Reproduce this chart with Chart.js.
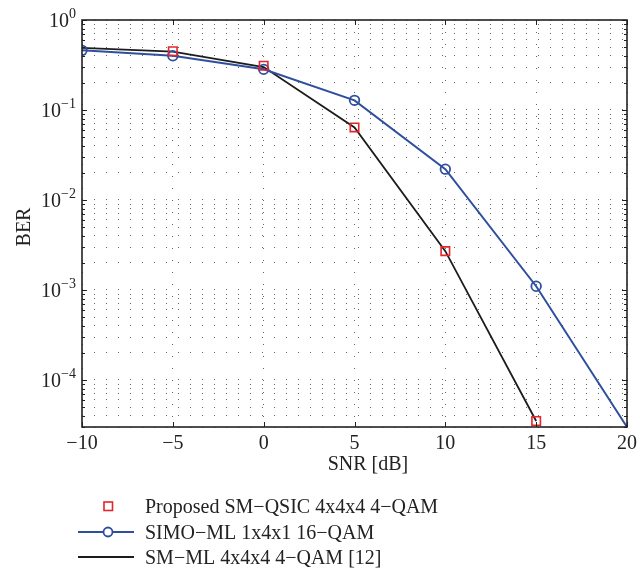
<!DOCTYPE html>
<html>
<head>
<meta charset="utf-8">
<script src="https://cdn.jsdelivr.net/npm/chart.js@4.4.0/dist/chart.umd.min.js"></script>
<style>
  html, body { margin: 0; padding: 0; background: #fff; }
  #wrap { width: 640px; height: 573px; }
</style>
</head>
<body>
<div id="wrap"><canvas id="chart"></canvas></div>
<script>
const snr = [-10, -5, 0, 5, 10, 15, 20]
const proposedBer = [null, 0.45, 0.31, 0.064, 0.0027, 0.000035, null]
const simoBer = [0.46, 0.40, 0.283, 0.128, 0.022, 0.0011, 0.00003]
const smmlBer = [0.49, 0.445, 0.30, 0.064, 0.0027, 0.000035, null]

const xTicks = [-10, -5, 0, 5, 10, 15, 20]
const xTickLabels = ["−10", "−5", "0", "5", "10", "15", "20"]
const yGrid = [
  0.00003, 0.00004, 0.00005, 0.00006, 0.00007, 0.00008, 0.00009,
  0.0001, 0.0002, 0.0003, 0.0004, 0.0005, 0.0006, 0.0007, 0.0008, 0.0009,
  0.001, 0.002, 0.003, 0.004, 0.005, 0.006, 0.007, 0.008, 0.009,
  0.01, 0.02, 0.03, 0.04, 0.05, 0.06, 0.07, 0.08, 0.09,
  0.1, 0.2, 0.3, 0.4, 0.5, 0.6, 0.7, 0.8, 0.9, 1,
]
const yDecades = [0.0001, 0.001, 0.01, 0.1, 1]
const yExponents = ["−4", "−3", "−2", "−1", "0"]
const legendNames = [
  "Proposed SM−QSIC 4x4x4 4−QAM",
  "SIMO−ML 1x4x1 16−QAM",
  "SM−ML 4x4x4 4−QAM [12]",
]

const RED = "#e3262b"
const BLUE = "#2f4f9e"
const BLACK = "#1c1c1c"
const SERIF = "'Liberation Serif', 'DejaVu Serif', serif"

function toPoints(values) {
  return snr.map((x, i) => ({ x: x, y: values[i] }))
}

const decorations = {
  id: "decorations",
  afterDraw(chart) {
    const ctx = chart.ctx
    const a = chart.chartArea
    const xs = chart.scales.x
    const ys = chart.scales.y
    ctx.save()

    // inside ticks
    ctx.strokeStyle = "#222"
    ctx.lineWidth = 1
    ctx.beginPath()
    xTicks.forEach((v) => {
      const px = Math.round(xs.getPixelForValue(v)) + 0.5
      ctx.moveTo(px, a.bottom)
      ctx.lineTo(px, a.bottom - 5)
      ctx.moveTo(px, a.top)
      ctx.lineTo(px, a.top + 5)
    })
    yGrid.forEach((v) => {
      const py = Math.round(ys.getPixelForValue(v)) + 0.5
      const len = yDecades.includes(v) ? 5 : 3
      ctx.moveTo(a.left, py)
      ctx.lineTo(a.left + len, py)
      ctx.moveTo(a.right, py)
      ctx.lineTo(a.right - len, py)
    })
    ctx.stroke()

    // frame
    ctx.lineWidth = 1.6
    ctx.strokeStyle = "#222"
    ctx.strokeRect(a.left, a.top, a.right - a.left, a.bottom - a.top)

    // x tick labels
    ctx.fillStyle = "#222"
    ctx.textBaseline = "alphabetic"
    ctx.font = "20px " + SERIF
    ctx.textAlign = "center"
    xTicks.forEach((v, i) => {
      ctx.fillText(xTickLabels[i], xs.getPixelForValue(v), 449)
    })

    // y tick labels 10^n
    ctx.textAlign = "right"
    yDecades.forEach((v, i) => {
      const py = ys.getPixelForValue(v)
      ctx.font = "14px " + SERIF
      const expW = ctx.measureText(yExponents[i]).width
      ctx.fillText(yExponents[i], 76, py - 2)
      ctx.font = "20px " + SERIF
      ctx.fillText("10", 76 - expW, py + 7)
    })

    // axis titles
    ctx.font = "20px " + SERIF
    ctx.textAlign = "center"
    ctx.fillText("SNR [dB]", 368, 470)
    ctx.save()
    ctx.translate(30, 227)
    ctx.rotate(-Math.PI / 2)
    ctx.fillText("BER", 0, 0)
    ctx.restore()

    // legend
    const rows = [506, 532, 557]
    ctx.textAlign = "left"
    ctx.font = "20px " + SERIF
    legendNames.forEach((name, i) => {
      ctx.fillStyle = "#222"
      ctx.fillText(name, 145, rows[i] + 6.5)
    })
    ctx.lineWidth = 1.6
    ctx.strokeStyle = RED
    ctx.strokeRect(104, rows[0] - 4, 8.5, 8.5)
    ctx.strokeStyle = BLUE
    ctx.lineWidth = 2
    ctx.beginPath()
    ctx.moveTo(78, rows[1])
    ctx.lineTo(134, rows[1])
    ctx.stroke()
    ctx.beginPath()
    ctx.fillStyle = "#fff"
    ctx.arc(108, rows[1], 4.5, 0, Math.PI * 2)
    ctx.fill()
    ctx.lineWidth = 1.8
    ctx.stroke()
    ctx.strokeStyle = BLACK
    ctx.lineWidth = 2
    ctx.beginPath()
    ctx.moveTo(78, rows[2])
    ctx.lineTo(134, rows[2])
    ctx.stroke()

    ctx.restore()
  },
}

const config = {
  type: "line",
  data: {
    datasets: [
      {
        label: legendNames[0],
        data: toPoints(proposedBer),
        showLine: false,
        pointStyle: "rect",
        pointRadius: 6,
        pointBorderWidth: 1.6,
        pointBorderColor: RED,
        pointBackgroundColor: "rgba(255,255,255,0)",
        borderColor: RED,
      },
      {
        label: legendNames[1],
        data: toPoints(simoBer),
        borderColor: BLUE,
        borderWidth: 2,
        pointStyle: "circle",
        pointRadius: [4.8, 4.8, 4.8, 4.8, 4.8, 4.8, 0],
        pointBorderWidth: 1.8,
        pointBorderColor: BLUE,
        pointBackgroundColor: "rgba(255,255,255,0)",
        tension: 0,
      },
      {
        label: legendNames[2],
        data: toPoints(smmlBer),
        borderColor: BLACK,
        borderWidth: 1.8,
        pointRadius: 0,
        tension: 0,
      },
    ],
  },
  options: {
    responsive: true,
    maintainAspectRatio: false,
    animation: false,
    layout: { padding: { left: 0, top: 20, right: 13, bottom: 0 } },
    plugins: {
      legend: { display: false },
      tooltip: { enabled: false },
    },
    scales: {
      x: {
        type: "linear",
        min: -10,
        max: 20,
        afterBuildTicks: (scale) => {
          scale.ticks = xTicks.map((v) => ({ value: v }))
        },
        afterFit: (scale) => {
          scale.height = 146
        },
        ticks: { display: false },
        grid: {
          color: "#666",
          lineWidth: 1,
          drawTicks: false,
        },
        border: { display: false, dash: [1, 11] },
      },
      y: {
        type: "logarithmic",
        min: 0.00003,
        max: 1,
        afterBuildTicks: (scale) => {
          scale.ticks = yGrid.map((v) => ({ value: v, major: yDecades.includes(v) }))
        },
        afterFit: (scale) => {
          scale.width = 82
        },
        ticks: { display: false },
        grid: {
          color: "#666",
          lineWidth: 1,
          drawTicks: false,
        },
        border: { display: false, dash: [1, 11] },
      },
    },
  },
  plugins: [decorations],
}

const chart = new Chart(document.getElementById("chart"), config)
</script>
</body>
</html>
